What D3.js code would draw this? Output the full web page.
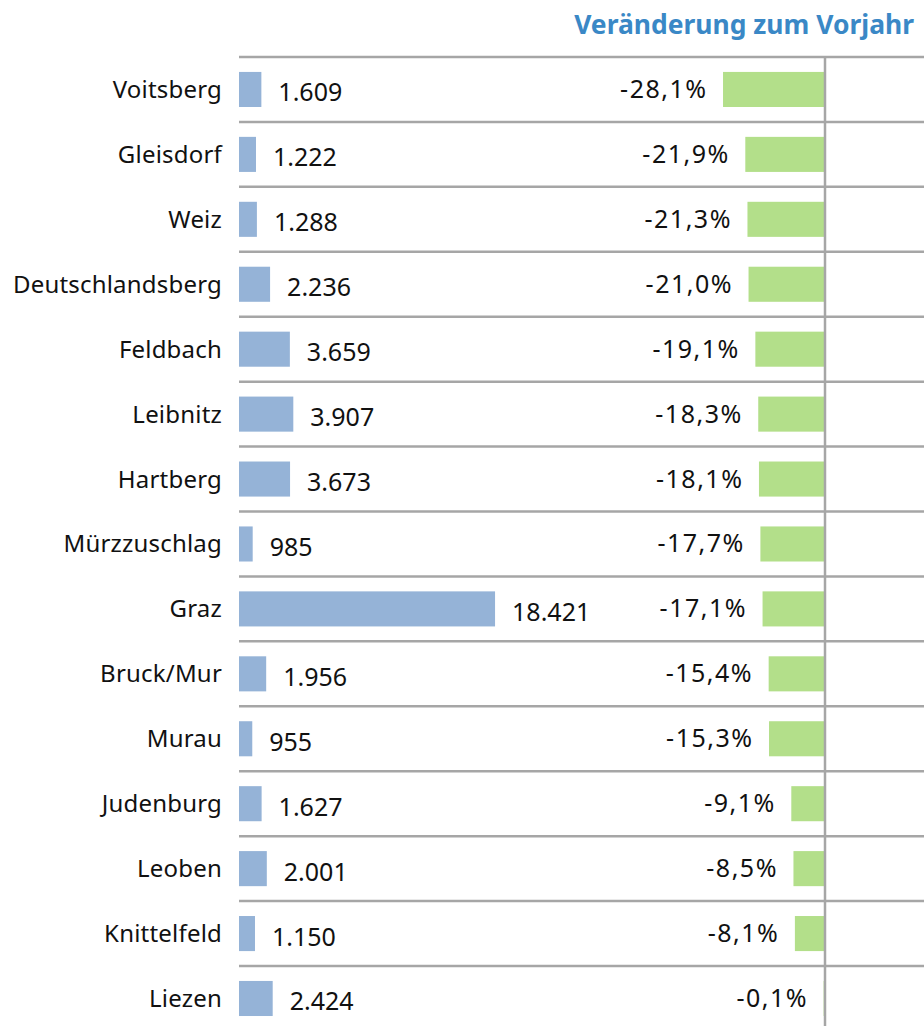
<!DOCTYPE html>
<html>
<head>
<meta charset="utf-8">
<script src="https://cdn.jsdelivr.net/npm/d3@7"></script>
<style>
  body { margin: 0; background: #fff; }
  text { font-family: "Noto Sans", sans-serif; }
</style>
</head>
<body>
<svg id="chart" width="924" height="1026"></svg>
<script>
let svg = d3.select("#chart");

// data
let regions = ["Voitsberg", "Gleisdorf", "Weiz", "Deutschlandsberg", "Feldbach", "Leibnitz",
  "Hartberg", "Mürzzuschlag", "Graz", "Bruck/Mur", "Murau", "Judenburg", "Leoben",
  "Knittelfeld", "Liezen"];
let counts = [1609, 1222, 1288, 2236, 3659, 3907, 3673, 985, 18421, 1956, 955, 1627, 2001, 1150, 2424];
let changes = [-28.1, -21.9, -21.3, -21.0, -19.1, -18.3, -18.1, -17.7, -17.1, -15.4, -15.3, -9.1, -8.5, -8.1, -0.1];

let topY = 57;
let rowH = 64.93;

let yScale = d3.scaleBand()
               .domain(regions)
               .range([topY, topY + rowH * regions.length])
               .paddingInner(0.46)
               .paddingOuter(0.23);

let xCount = d3.scaleLinear()
               .domain([0, 20000])
               .range([239, 517]);

let xChange = d3.scaleLinear()
                .domain([-30, 0])
                .range([716.2, 824]);

let fmtCount = d3.formatLocale({decimal: ",", thousands: ".", grouping: [3], currency: ["", ""]}).format(",d");
let fmtPct = d => d.toFixed(1).replace(".", ",") + "%";

// title, sized so it spans the same width as the original
let title = svg.append("text")
   .attr("x", 914)
   .attr("y", 34)
   .attr("text-anchor", "end")
   .attr("font-family", "'DejaVu Sans', sans-serif")
   .attr("font-size", 20)
   .attr("font-weight", "bold")
   .attr("fill", "#3a88c6")
   .text("Veränderung zum Vorjahr");
let tw = title.node().getComputedTextLength();
title.attr("font-size", 20 * 340 / tw);

// grid lines between rows
let rows = d3.range(regions.length);
svg.append("g")
   .selectAll("line")
   .data(rows)
   .enter()
   .append("line")
   .attr("x1", 239)
   .attr("x2", 924)
   .attr("y1", i => topY + i * rowH)
   .attr("y2", i => topY + i * rowH)
   .attr("stroke", "#a6a6a6")
   .attr("stroke-width", 2.5);

let rowCenter = d => yScale(d) + yScale.bandwidth() / 2;

// blue bars
svg.append("g")
   .selectAll("rect")
   .data(regions)
   .enter()
   .append("rect")
   .attr("x", xCount(0))
   .attr("y", d => yScale(d))
   .attr("width", (d, i) => xCount(counts[i]) - xCount(0))
   .attr("height", yScale.bandwidth())
   .attr("fill", "#95b3d7");

// green bars
svg.append("g")
   .selectAll("rect")
   .data(regions)
   .enter()
   .append("rect")
   .attr("x", (d, i) => xChange(changes[i]))
   .attr("y", d => yScale(d))
   .attr("width", (d, i) => xChange(0) - xChange(changes[i]))
   .attr("height", yScale.bandwidth())
   .attr("fill", "#b3df8a");

// vertical zero line
svg.append("line")
   .attr("x1", 825)
   .attr("x2", 825)
   .attr("y1", topY)
   .attr("y2", 1026)
   .attr("stroke", "#a6a6a6")
   .attr("stroke-width", 2.5);

// category labels
svg.append("g")
   .selectAll("text")
   .data(regions)
   .enter()
   .append("text")
   .attr("x", 222)
   .attr("y", d => rowCenter(d) + 8.5)
   .attr("text-anchor", "end")
   .attr("font-size", 24)
   .attr("letter-spacing", 0.2)
   .attr("fill", "#111")
   .text(d => d);

// count labels
svg.append("g")
   .selectAll("text")
   .data(regions)
   .enter()
   .append("text")
   .attr("x", (d, i) => xCount(counts[i]) + 17)
   .attr("y", d => rowCenter(d) + 12)
   .attr("font-size", 25)
   .attr("fill", "#111")
   .text((d, i) => fmtCount(counts[i]));

// change labels
svg.append("g")
   .selectAll("text")
   .data(regions)
   .enter()
   .append("text")
   .attr("x", (d, i) => xChange(changes[i]) - 15.5)
   .attr("y", d => rowCenter(d) + 8.5)
   .attr("text-anchor", "end")
   .attr("font-size", 25)
   .attr("letter-spacing", 1.5)
   .attr("fill", "#111")
   .text((d, i) => fmtPct(changes[i]));
</script>
</body>
</html>
